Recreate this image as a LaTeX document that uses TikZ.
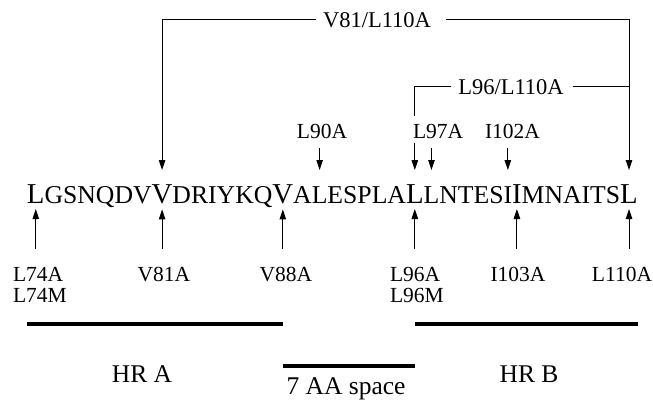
\documentclass[tikz,border=0pt]{standalone}
\usepackage{fontspec}
\setmainfont{Liberation Serif}
\usetikzlibrary{arrows.meta,calc}
\begin{document}
\begin{tikzpicture}[x=1pt,y=-1pt,
  seq/.style={inner sep=0pt,outer sep=0pt,font=\fontsize{25.7}{27}\selectfont},
  big/.style={inner sep=0pt,outer sep=0pt,font=\fontsize{28.8}{30}\selectfont},
  lab/.style={inner sep=0pt,outer sep=0pt,text depth=0pt,font=\fontsize{21.5}{23}\selectfont},
  toplab/.style={lab,font=\fontsize{22.5}{24}\selectfont},
  hr/.style={inner sep=0pt,outer sep=0pt,font=\fontsize{25.5}{27}\selectfont},
  thinline/.style={line width=0.9pt},
  arr/.style={thinline,-{Triangle[length=10pt,width=6.5pt]}},
  bar/.style={line width=3.5pt}]
\useasboundingbox (0,0) rectangle (653,399);
% sequence
\node[big,anchor=base west] (L74) at (27,203) {L};
\node[seq,anchor=base west] (s2) at (L74.base east) {GSNQDV};
\node[big,anchor=base west] (V81) at (s2.base east) {V};
\node[seq,anchor=base west] (s4) at (V81.base east) {DRIYKQ};
\node[big,anchor=base west] (V88) at (s4.base east) {V};
\node[seq,anchor=base west] (s6) at (V88.base east) {A};
\node[seq,anchor=base west] (L90) at (s6.base east) {L};
\node[seq,anchor=base west] (s8) at (L90.base east) {ESPLA};
\node[big,anchor=base west] (L96) at (s8.base east) {L};
\node[seq,anchor=base west] (L97) at (L96.base east) {L};
\node[seq,anchor=base west] (s11) at (L97.base east) {NTES};
\node[seq,anchor=base west] (I102) at (s11.base east) {I};
\node[big,anchor=base west] (I103) at (I102.base east) {I};
\node[seq,anchor=base west] (s14) at (I103.base east) {MNAITS};
\node[big,anchor=base west] (L110) at (s14.base east) {L};
\coordinate (tipline) at (0,170);
\coordinate (barA) at (0,324);
\coordinate (barS) at (0,366);
% top brackets
\node[toplab,anchor=base] (top1) at (377,27) {V81/L110A};
\draw[arr] ([xshift=-7pt]top1.west) -| (V81 |- tipline);
\draw[arr] ([xshift=15pt]top1.east) -| (L110 |- tipline);
\node[lab,anchor=base west] (l97a) at (413,138) {L97A};
\node[toplab,anchor=base] (top2) at (511,94) {L96/L110A};
\draw[thinline] ([xshift=-7pt]top2.west) -| ($(L96 |- l97a.north)+(0,-8)$);
\draw[thinline] ([xshift=9pt]top2.east) -- (L110 |- top2.east);
% top labels
\node[lab,anchor=base] (l90a) at (322,138) {L90A};
\node[lab,anchor=base west] (i102a) at (485,138) {I102A};
\draw[arr] ($(L90 |- l90a.south)+(0,10)$) -- (L90 |- tipline);
\draw[arr] ($(L97 |- l97a.south)+(0,10)$) -- (L97 |- tipline);
\draw[arr] ($(I102 |- i102a.south)+(0,10)$) -- (I102 |- tipline);
\draw[arr] ($(L96 |- l97a.south)+(0,5)$) -- (L96 |- tipline);
% bottom labels
\node[lab,anchor=base west] (l74a) at (13,281) {L74A};
\node[lab,anchor=base west] (l74m) at (13,302) {L74M};
\node[lab,anchor=base] (v81a) at (164,281) {V81A};
\node[lab,anchor=base] (v88a) at (286,281) {V88A};
\node[lab,anchor=base west] (l96a) at (390,281) {L96A};
\node[lab,anchor=base west] (l96m) at (390,302) {L96M};
\node[lab,anchor=base] (i103a) at (518,281) {I103A};
\node[lab,anchor=base] (l110a) at (622,281) {L110A};
\foreach \res/\lab in {L74/l74a,V81/v81a,V88/v88a,L96/l96a,I103/i103a,L110/l110a}{
  \draw[arr] ($(\res |- \lab.north)+(0,-18)$) -- ($(\res.south)+(0,6)$);
}
% bars
\draw[bar] (L74.west |- barA) -- (V88 |- barA);
\draw[bar] (V88 |- barS) -- (L96 |- barS);
\draw[bar] (L96 |- barA) -- (L110.east |- barA);
\node[hr,anchor=base] (hra) at (142,382) {HR A};
\node[hr,anchor=base] (hrb) at (529,382) {HR B};
\node[hr,anchor=base] (space) at (346,394) {7 AA space};
\end{tikzpicture}
\end{document}
